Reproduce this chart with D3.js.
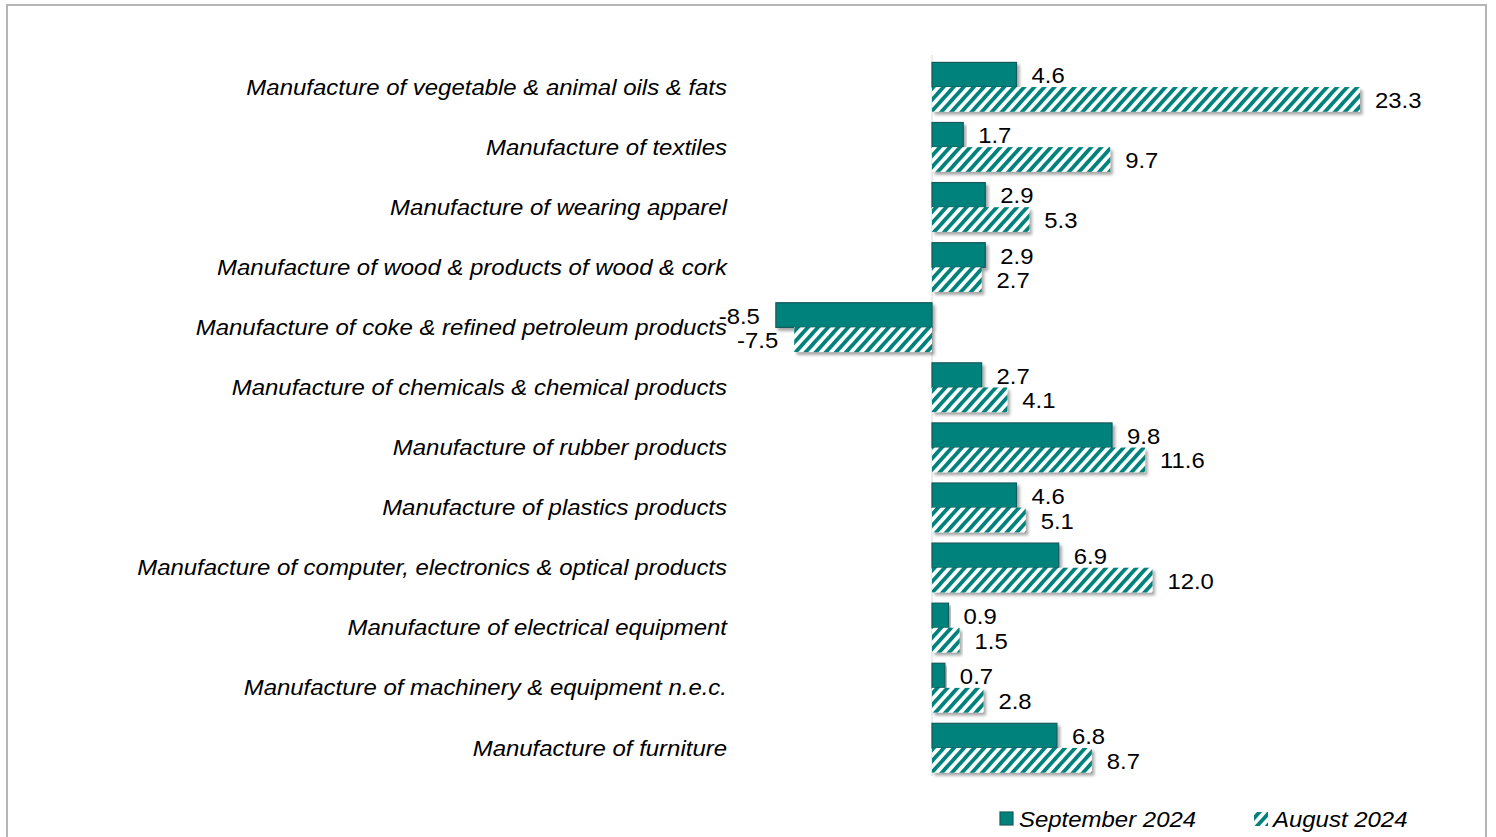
<!DOCTYPE html>
<html><head><meta charset="utf-8">
<script src="https://cdn.jsdelivr.net/npm/d3@7"></script>
<style>
html,body{margin:0;padding:0;background:#fff;}
svg{display:block;}
text{font-family:"Liberation Sans",Arial,sans-serif;fill:#000;}
</style></head>
<body>
<svg id="chart" width="1496" height="837"></svg>
<script>
const categories = [
  "Manufacture of vegetable & animal oils & fats",
  "Manufacture of textiles",
  "Manufacture of wearing apparel",
  "Manufacture of wood & products of wood & cork",
  "Manufacture of coke & refined petroleum products",
  "Manufacture of chemicals & chemical products",
  "Manufacture of rubber products",
  "Manufacture of plastics products",
  "Manufacture of computer, electronics & optical products",
  "Manufacture of electrical equipment",
  "Manufacture of machinery & equipment n.e.c.",
  "Manufacture of furniture"
];
const september2024 = [4.6, 1.7, 2.9, 2.9, -8.5, 2.7, 9.8, 4.6, 6.9, 0.9, 0.7, 6.8];
const august2024 = [23.3, 9.7, 5.3, 2.7, -7.5, 4.1, 11.6, 5.1, 12.0, 1.5, 2.8, 8.7];
const seriesNames = ["September 2024", "August 2024"];

const teal = "#00827c";
const dark = "#145a5c";
const svg = d3.select("#chart");
const defs = svg.append("defs");
const pat = defs.append("pattern").attr("id","hatch").attr("patternUnits","userSpaceOnUse")
  .attr("width",7.5).attr("height",7.5).attr("patternTransform","rotate(42)");
pat.append("rect").attr("width",7.5).attr("height",7.5).attr("fill","#fff");
pat.append("rect").attr("width",3.8).attr("height",7.5).attr("fill",teal);
const f = defs.append("filter").attr("id","shadow").attr("x","-10%").attr("y","-30%").attr("width","120%").attr("height","170%");
f.append("feDropShadow").attr("dx",2.5).attr("dy",3).attr("stdDeviation",1.6).attr("flood-color","#000").attr("flood-opacity",0.35);

// border
svg.append("rect").attr("x",7).attr("y",5).attr("width",1479).attr("height",840)
  .attr("fill","none").attr("stroke","#b5b5b5").attr("stroke-width",2);

const x = d3.scaleLinear().domain([0, 23.3]).range([932, 1360]);
const y = d3.scaleBand().domain(categories).range([57, 778]).paddingInner(0.18).paddingOuter(0.09);
const bh = y.bandwidth()/2;

// zero axis line
svg.append("line").attr("x1",x(0)).attr("x2",x(0)).attr("y1",55).attr("y2",776)
  .attr("stroke","#d9d9d9").attr("stroke-width",1);

const SX = 1.11;
function stretchText(sel, xx, yy, anchor){
  sel.attr("transform", `translate(${xx},${yy}) scale(${SX},1)`).attr("text-anchor", anchor);
}

// category labels
categories.forEach((c,i)=>{
  const t = svg.append("text").text(c).attr("font-size",21.6).attr("font-style","italic")
    .attr("dominant-baseline","central");
  stretchText(t, 727, y(c)+y.bandwidth()/2, "end");
});

const bars = svg.append("g");
// September bars
bars.selectAll("rect.sep").data(september2024).join("rect")
  .attr("x", d=>Math.min(x(0),x(d)))
  .attr("y", (d,i)=>y(categories[i]))
  .attr("width", d=>Math.abs(x(d)-x(0)))
  .attr("height", bh)
  .attr("fill", teal).attr("stroke", dark).attr("stroke-width",1.2)
  .attr("filter","url(#shadow)");
// August bars
bars.selectAll("rect.aug").data(august2024).join("rect")
  .attr("x", d=>Math.min(x(0),x(d)))
  .attr("y", (d,i)=>y(categories[i])+bh)
  .attr("width", d=>Math.abs(x(d)-x(0)))
  .attr("height", bh)
  .attr("fill", "url(#hatch)")
  .attr("filter","url(#shadow)");

// value labels
function valLabels(arr, off){
  arr.forEach((d,i)=>{
    const t = svg.append("text").text(d.toFixed(1)).attr("font-size",21.5)
      .attr("dominant-baseline","central");
    const yy = y(categories[i]) + off + bh/2 + 1;
    if (d >= 0) stretchText(t, x(d)+15, yy, "start");
    else stretchText(t, x(d)-16, yy, "end");
  });
}
valLabels(september2024, 0);
valLabels(august2024, bh);

// legend
const lg = svg.append("g");
lg.append("rect").attr("x",1000).attr("y",812).attr("width",13).attr("height",13)
  .attr("fill",teal).attr("stroke",dark).attr("stroke-width",1.2);
const t1 = lg.append("text").text(seriesNames[0]).attr("font-size",21.6).attr("font-style","italic");
stretchText(t1, 1019, 827, "start");
lg.append("rect").attr("x",1254).attr("y",812).attr("width",14).attr("height",14).attr("fill","url(#hatch)");
const t2 = lg.append("text").text(seriesNames[1]).attr("font-size",21.6).attr("font-style","italic");
stretchText(t2, 1273, 827, "start");
</script>
</body></html>
